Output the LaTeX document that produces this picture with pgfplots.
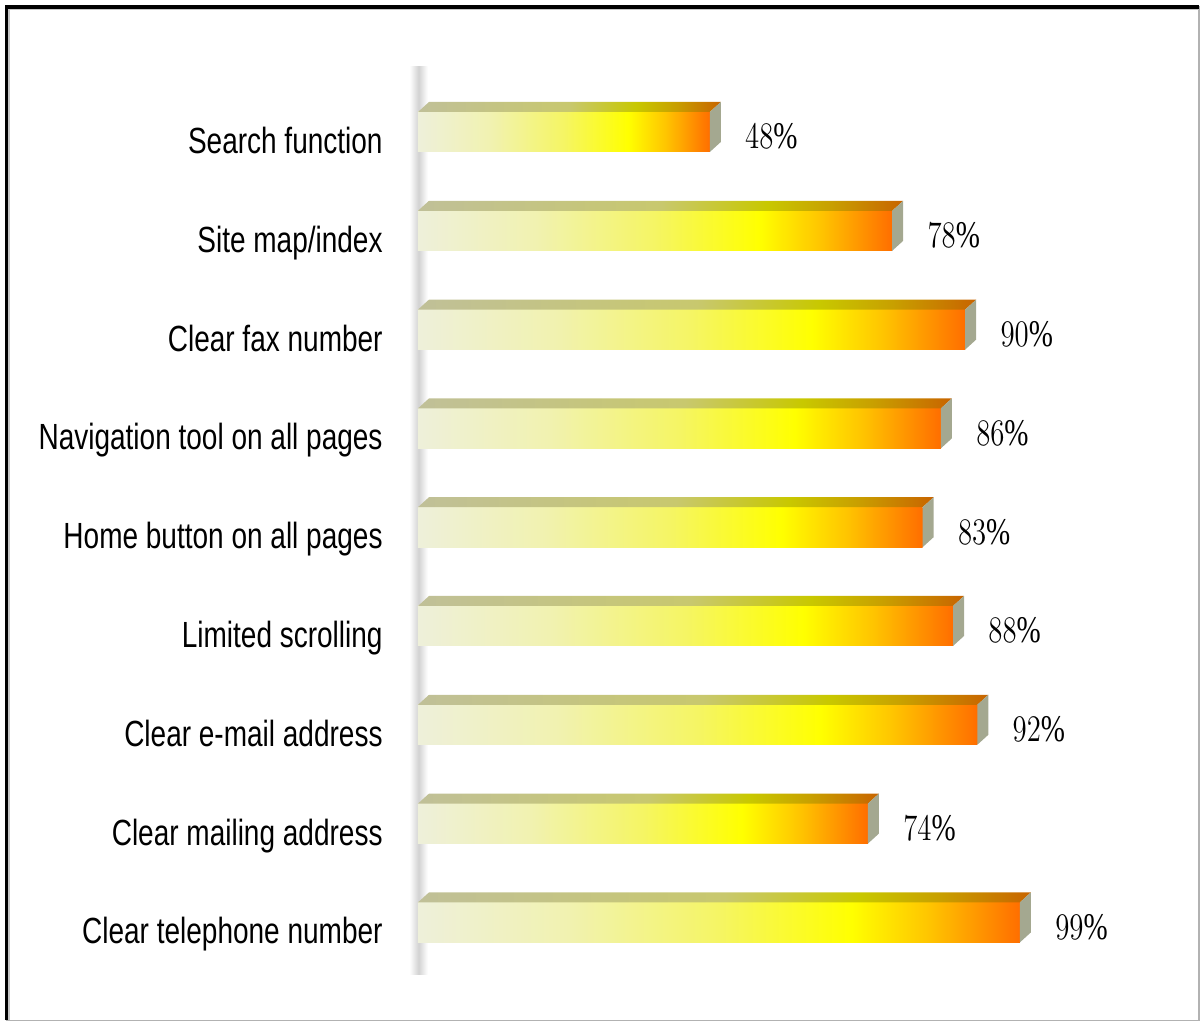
\documentclass[border=0pt]{standalone}
\usepackage{pgfplots}
\usepackage{pgfplotstable}
\pgfplotsset{compat=1.18}
\usepackage{graphicx}
\usepackage{fontspec}
\setmainfont{Liberation Sans}
\newfontfamily\valfont{Liberation Serif}

\definecolor{f0}{RGB}{238,240,218}
\definecolor{f25}{RGB}{241,242,176}
\definecolor{f50}{RGB}{245,245,100}
\definecolor{f72}{RGB}{255,255,0}
\definecolor{f85}{RGB}{255,196,0}
\definecolor{f100}{RGB}{255,110,0}
\definecolor{t0}{RGB}{192,192,152}
\definecolor{t50}{RGB}{200,200,110}
\definecolor{t72}{RGB}{200,200,0}
\definecolor{t85}{RGB}{200,160,0}
\definecolor{t100}{RGB}{200,100,0}
\definecolor{sidec}{RGB}{164,168,144}

\pgfdeclarehorizontalshading{barfront}{100bp}{color(0bp)=(f0); color(25bp)=(f0); color(37.5bp)=(f25); color(50bp)=(f50); color(61bp)=(f72); color(67.5bp)=(f85); color(75bp)=(f100); color(100bp)=(f100)}
\pgfdeclarehorizontalshading{bartop}{100bp}{color(0bp)=(t0); color(25bp)=(t0); color(50bp)=(t50); color(61bp)=(t72); color(67.5bp)=(t85); color(75bp)=(t100); color(100bp)=(t100)}

\newcommand\lab[1]{\scalebox{1}[1.3]{\fontsize{14}{16}\selectfont #1}}

\pgfplotstableread{
idx val
0 48
1 78
2 90
3 86
4 83
5 88
6 92
7 74
8 99
}\datatab

\begin{document}
\begin{tikzpicture}
\begin{axis}[
  x=3.04pt, y=49.4pt, y dir=reverse,
  xmin=0, xmax=125, ymin=-1, ymax=8.8,
  axis line style={draw=none}, tick style={draw=none},
  xtick=\empty, ytick={0,...,8},
  yticklabels={\lab{Search function},\lab{Site map/index},\lab{Clear fax number},\lab{Navigation tool on all pages},\lab{Home button on all pages},\lab{Limited scrolling},\lab{Clear e-mail address},\lab{Clear mailing address},\lab{Clear telephone number}},
  yticklabel style={anchor=base east, inner sep=0pt, xshift=-17.5pt, yshift=-10.8pt},
  clip=false,
]
% left wall
\shade[left color=white, right color=white, middle color=gray!35] (axis cs:-1.4,-0.66) rectangle (axis cs:1.6,8.53);
% front faces (one plot per bar so each bar gets its own gradient)
\pgfplotsinvokeforeach{0,...,8}{
\addplot[xbar, bar width=20pt, bar shift=0pt, draw=none, shading=barfront,
  restrict y to domain=#1:#1,
  point meta=x,
  nodes near coords={\scalebox{1}[1.3]{\valfont\fontsize{14.5}{16}\selectfont\pgfmathprintnumber{\pgfplotspointmeta}\%}},
  every node near coord/.append style={anchor=base west, inner sep=0pt, xshift=17.5pt, yshift=-8.5pt, text=black},
] table[x=val, y=idx] {\datatab};
}
% top and side faces
\addplot[scatter, only marks, mark=text, text mark={}, mark options={draw=none, fill=none},
  visualization depends on={rawx \as \rawx},
  scatter/@pre marker code/.code={%
    \pgfmathsetmacro\L{\rawx*3.04}%
    \begin{scope}
    \shade[shading=bartop, draw=none] (-\L pt,10pt) -- (0pt,10pt) -- (5.5pt,15pt) -- (-\L pt+5.5pt,15pt) -- cycle;
    \path[fill=sidec, draw=none] (0pt,-10pt) -- (0pt,10pt) -- (5.5pt,15pt) -- (5.5pt,-5pt) -- cycle;
  },
  scatter/@post marker code/.code={\end{scope}},
] table[x=val, y=idx] {\datatab};
% frame
\coordinate (bbA) at (axis cs:-68.75,-1.336);
\coordinate (bbB) at (axis cs:129.28,9.038);
\draw[gray!60, line width=0.6pt] (axis cs:-67.6,-1.265) -- (axis cs:128.45,-1.265) -- (axis cs:128.45,8.99) -- (axis cs:-67.6,8.99) -- cycle;
\draw[black, line width=1.6pt] (axis cs:-67.6,8.99) -- (axis cs:-67.6,-1.265) -- (axis cs:128.45,-1.265);
\draw[gray!45, line width=0.8pt] (axis cs:-67.3,8.99) -- (axis cs:-67.3,-1.24) -- (axis cs:128.45,-1.24);
\end{axis}
\path (bbA) rectangle (bbB);
\end{tikzpicture}
\end{document}
